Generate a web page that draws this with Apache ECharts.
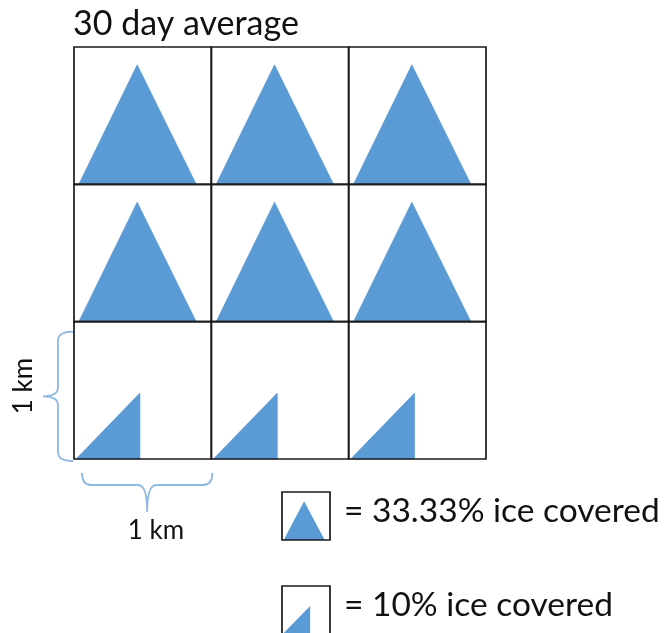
<!DOCTYPE html>
<html><head><meta charset="utf-8">
<script src="https://cdn.jsdelivr.net/npm/echarts@6.0.0/dist/echarts.min.js"></script>
<style>html,body{margin:0;padding:0;background:#fff}#c{width:665px;height:633px}</style>
</head><body><div id="c"></div>
<script>
// ---- data ----
const columnIndex = [0, 1, 2];
const rowIndexTopToBottom = [0, 1, 2];
const coverageRow1 = [33.33, 33.33, 33.33];   // percent ice covered, top row
const coverageRow2 = [33.33, 33.33, 33.33];   // middle row
const coverageRow3 = [10, 10, 10];            // bottom row
const coverageRows = [coverageRow1, coverageRow2, coverageRow3];
const legendValues = [33.33, 10];
const legendLabels = ['= 33.33% ice covered', '= 10% ice covered'];
const titleText = '30 day average';
const scaleLabel = '1 km';
const scaleSpan = [0, 1];   // 1 km = one cell, on both axes

// ---- build ----
const cells = [];
rowIndexTopToBottom.forEach(function (r) {
  columnIndex.forEach(function (c) {
    cells.push([c, 2 - r, coverageRows[r][c]]);
  });
});

const BLUE = '#5b9bd5';
const FONT = 'Lato, "Open Sans", sans-serif';

function shapePoints(x0, y0, w, h, pct, k) {
  k = k || 1;
  if (pct > 20) {
    return [[x0 + 0.035 * w, y0 + h], [x0 + 0.46 * w, y0 + (1 - 0.87 * k) * h], [x0 + 0.89 * w, y0 + h]];
  }
  return [[x0 + 0.015 * w, y0 + h], [x0 + 0.48 * k * w, y0 + (1 - 0.48 * k) * h], [x0 + 0.48 * k * w, y0 + h]];
}

const chart = echarts.init(document.getElementById('c'), null, { renderer: 'canvas' });

const option = {
  animation: false,
  backgroundColor: '#fff',
  grid: { left: 74, top: 47, width: 412, height: 412 },
  xAxis: { type: 'value', min: 0, max: 3, interval: 1, show: false },
  yAxis: { type: 'value', min: 0, max: 3, interval: 1, show: false },
  series: [
    {
      type: 'custom',
      clip: false,
      data: cells,
      renderItem: function (params, api) {
        const c = api.value(0), r = api.value(1), p = api.value(2);
        const tl = api.coord([c, r + 1]);
        const br = api.coord([c + 1, r]);
        const w = br[0] - tl[0], h = br[1] - tl[1];
        return {
          type: 'group',
          children: [
            { type: 'polygon', shape: { points: shapePoints(tl[0], tl[1], w, h, p) },
              style: { fill: BLUE, stroke: '#5390cb', lineWidth: 0.6 } },
            { type: 'rect', shape: { x: tl[0], y: tl[1], width: w, height: h },
              style: { fill: 'none', stroke: '#1a1a1a', lineWidth: 1.7 }, z2: 5 }
          ]
        };
      }
    },
    {
      type: 'custom',
      clip: false,
      // 0 = vertical brace (y span), 1 = horizontal brace (x span)
      data: [[0, scaleSpan[0], scaleSpan[1]], [1, scaleSpan[0], scaleSpan[1]]],
      renderItem: function (params, api) {
        const kind = api.value(0);
        const a = api.value(1), b = api.value(2);
        const rr = 9;
        let d;
        if (kind === 0) {
          const top = api.coord([0, b]), bot = api.coord([0, a]);
          const x0 = top[0] - 1, xl = top[0] - 16, xt = top[0] - 31;
          const y1 = top[1] + 10, y2 = bot[1] + 2, ym = (y1 + y2) / 2;
          d = 'M' + x0 + ' ' + y1 + ' Q' + xl + ' ' + y1 + ' ' + xl + ' ' + (y1 + rr) +
              ' L' + xl + ' ' + (ym - rr) + ' Q' + xl + ' ' + ym + ' ' + xt + ' ' + ym +
              ' Q' + xl + ' ' + ym + ' ' + xl + ' ' + (ym + rr) +
              ' L' + xl + ' ' + (y2 - rr) + ' Q' + xl + ' ' + y2 + ' ' + x0 + ' ' + y2;
        } else {
          const l = api.coord([a, 0]), rgt = api.coord([b, 0]);
          const x1 = l[0] + 8, x2 = rgt[0] + 1, xm = (x1 + x2) / 2;
          const y0 = l[1] + 14, yl = l[1] + 26, yt = l[1] + 53;
          d = 'M' + x1 + ' ' + y0 + ' Q' + x1 + ' ' + yl + ' ' + (x1 + rr) + ' ' + yl +
              ' L' + (xm - rr) + ' ' + yl + ' Q' + xm + ' ' + yl + ' ' + xm + ' ' + yt +
              ' Q' + xm + ' ' + yl + ' ' + (xm + rr) + ' ' + yl +
              ' L' + (x2 - rr) + ' ' + yl + ' Q' + x2 + ' ' + yl + ' ' + x2 + ' ' + y0;
        }
        return { type: 'path', shape: { pathData: d },
          style: { fill: 'none', stroke: '#8fb9e2', lineWidth: 1.8 } };
      }
    }
  ]
};
chart.setOption(option);

// texts and legend
const graphics = [
  { type: 'text', x: 73, y: 24, style: { text: titleText, font: '34px ' + FONT, fill: '#111', textVerticalAlign: 'middle' } },
  { type: 'text', x: 24, y: 386, rotation: Math.PI / 2, style: { text: scaleLabel, font: '26px ' + FONT, fill: '#111', textAlign: 'center', textVerticalAlign: 'middle' } },
  { type: 'text', x: 156, y: 531, style: { text: scaleLabel, font: '26px ' + FONT, fill: '#111', textAlign: 'center', textVerticalAlign: 'middle' } }
];
const legendTops = [492, 586];
const legendShapeScale = [0.93, 1.22];
legendValues.forEach(function (v, i) {
  const x0 = 282, y0 = legendTops[i], s = 48;
  graphics.push({ type: 'polygon', shape: { points: shapePoints(x0, y0, s, s, v, legendShapeScale[i]) }, style: { fill: BLUE } });
  graphics.push({ type: 'rect', shape: { x: x0, y: y0, width: s, height: s }, style: { fill: 'none', stroke: '#1a1a1a', lineWidth: 1.7 } });
  graphics.push({ type: 'text', x: 344, y: y0 + 19, style: { text: legendLabels[i], font: '33.5px ' + FONT, fill: '#111', textVerticalAlign: 'middle' } });
});
chart.setOption({ graphic: graphics });
</script>
</body></html>
